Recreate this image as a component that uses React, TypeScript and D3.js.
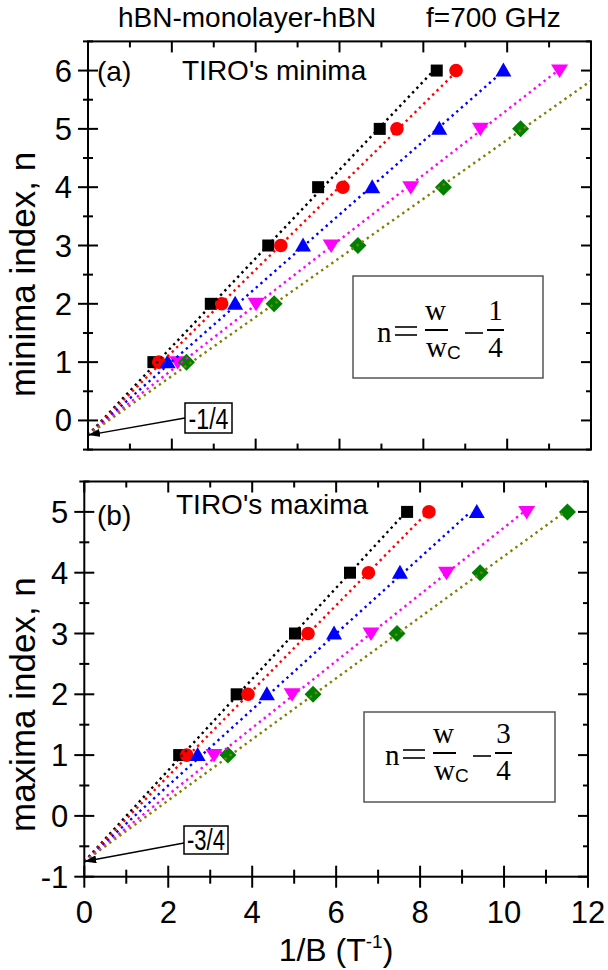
import React from 'react';
import * as d3 from 'd3';

// ---------------- data ----------------
const nMinima = [1, 2, 3, 4, 5, 6];
const nMaxima = [1, 2, 3, 4, 5];

const minimaBlack = [1.56, 2.93, 4.3, 5.49, 6.96, 8.32];
const minimaRed = [1.69, 3.19, 4.6, 6.08, 7.37, 8.78];
const minimaBlue = [1.9, 3.51, 5.13, 6.78, 8.38, 9.91];
const minimaMagenta = [2.14, 4.01, 5.8, 7.7, 9.36, 11.25];
const minimaGreen = [2.35, 4.44, 6.44, 8.48, 10.32];

const maximaBlack = [2.26, 3.63, 5.02, 6.33, 7.69];
const maximaRed = [2.44, 3.9, 5.33, 6.77, 8.21];
const maximaBlue = [2.7, 4.35, 5.95, 7.52, 9.35];
const maximaMagenta = [3.09, 4.95, 6.83, 8.63, 10.54];
const maximaGreen = [3.42, 5.45, 7.45, 9.43, 11.51];

const markerColors = ['#000000', '#ff0000', '#0000ff', '#ff00ff', '#008000'];
const lineColors = ['#000000', '#ff0000', '#0000ff', '#ff00ff', '#808000'];
const markerShapes = ['square', 'circle', 'triangle', 'triangleDown', 'diamond'];

const interceptMinima = -0.25;
const interceptMaxima = -0.75;

const xTickValues = [0, 2, 4, 6, 8, 10, 12];
const xTickLabels = ['0', '2', '4', '6', '8', '10', '12'];
const yTickValuesA = [0, 1, 2, 3, 4, 5, 6];
const yTickLabelsA = ['0', '1', '2', '3', '4', '5', '6'];
const yTickValuesB = [-1, 0, 1, 2, 3, 4, 5];
const yTickLabelsB = ['-1', '0', '1', '2', '3', '4', '5'];

// ---------------- styling ----------------
const SANS = "'Liberation Sans', Arial, Helvetica, sans-serif";
const SERIF = "'Liberation Serif', 'Times New Roman', serif";
const TICK_FS = 31;

type Series = { xs: number[]; ns: number[]; color: string; lineColor: string; shape: string };

function fitSlope(xs: number[], ns: number[], c: number) {
  let sxy = 0;
  let sxx = 0;
  xs.forEach((x, i) => {
    sxy += x * (ns[i] - c);
    sxx += x * x;
  });
  return sxy / sxx;
}

function Marker({ shape, cx, cy, color }: { shape: string; cx: number; cy: number; color: string }) {
  if (shape === 'square') return <rect x={cx - 6} y={cy - 6} width={12} height={12} fill={color} />;
  if (shape === 'circle') return <circle cx={cx} cy={cy} r={6.8} fill={color} />;
  if (shape === 'triangle')
    return <polygon points={`${cx},${cy - 8} ${cx - 8},${cy + 6} ${cx + 8},${cy + 6}`} fill={color} />;
  if (shape === 'triangleDown')
    return <polygon points={`${cx - 8.5},${cy - 6} ${cx + 8.5},${cy - 6} ${cx},${cy + 7.5}`} fill={color} />;
  return <polygon points={`${cx},${cy - 8.5} ${cx + 8.5},${cy} ${cx},${cy + 8.5} ${cx - 8.5},${cy}`} fill={color} />;
}

function Panel(props: {
  id: string;
  x: d3.ScaleLinear<number, number>;
  y: d3.ScaleLinear<number, number>;
  series: Series[];
  intercept: number;
  nTop: number;
  yTicks: number[];
  yLabels: string[];
  crossBottom: boolean;
  showXLabels: boolean;
}) {
  const { id, x, y, series, intercept, nTop, yTicks, yLabels, crossBottom, showXLabels } = props;
  const [xl, xr] = x.range();
  const [yb, yt] = y.range();
  const [d0, d1] = y.domain();
  const yMinor = d3.range(Math.ceil(d0 * 2) / 2, d1 + 0.001, 0.5).filter((v) => Math.abs(v - Math.round(v)) > 0.1);
  const xMinor = d3.range(1, 12, 2);
  const lw = 2;
  return (
    <g>
      <defs>
        <clipPath id={`clip-${id}`}>
          <rect x={xl} y={yt} width={xr - xl} height={yb - yt} />
        </clipPath>
      </defs>
      {series.map((s, si) =>
        s.xs.map((xv, i) => (
          <Marker key={`${si}-${i}`} shape={s.shape} cx={x(xv)} cy={y(s.ns[i])} color={s.color} />
        ))
      )}
      <g clipPath={`url(#clip-${id})`}>
        {series.map((s, si) => {
          const a = fitSlope(s.xs, s.ns, intercept);
          const xEnd = (nTop - intercept) / a;
          return (
            <line
              key={si}
              x1={x(0)}
              y1={y(intercept)}
              x2={x(xEnd)}
              y2={y(nTop)}
              stroke={s.lineColor}
              strokeWidth={2.4}
              strokeDasharray="2.4 3.8"
            />
          );
        })}
      </g>
      <rect x={xl} y={yt} width={xr - xl} height={yb - yt} fill="none" stroke="#000" strokeWidth={lw} />
      {yTicks.map((v) => (
        <g key={`yt${v}`}>
          <line x1={xl - 10} x2={xl + 10} y1={y(v)} y2={y(v)} stroke="#000" strokeWidth={lw} />
          <line x1={xr - 10} x2={xr} y1={y(v)} y2={y(v)} stroke="#000" strokeWidth={lw} />
        </g>
      ))}
      {yMinor.map((v) => (
        <g key={`ym${v}`}>
          <line x1={xl - 5} x2={xl + 5} y1={y(v)} y2={y(v)} stroke="#000" strokeWidth={lw} />
          <line x1={xr - 5} x2={xr} y1={y(v)} y2={y(v)} stroke="#000" strokeWidth={lw} />
        </g>
      ))}
      {yTicks.map((v, i) => (
        <text key={`yl${v}`} x={xl - 16} y={y(v) + 11} textAnchor="end" fontFamily={SANS} fontSize={TICK_FS}>
          {yLabels[i]}
        </text>
      ))}
      {xTickValues.map((v) => (
        <g key={`xt${v}`}>
          <line x1={x(v)} x2={x(v)} y1={yt} y2={yt + 11} stroke="#000" strokeWidth={lw} />
          <line x1={x(v)} x2={x(v)} y1={crossBottom ? yb + 11 : yb} y2={yb - 11} stroke="#000" strokeWidth={lw} />
        </g>
      ))}
      {xMinor.map((v) => (
        <g key={`xm${v}`}>
          <line x1={x(v)} x2={x(v)} y1={yt} y2={yt + 6} stroke="#000" strokeWidth={lw} />
          <line
            x1={x(v)}
            x2={x(v)}
            y1={crossBottom ? yb + 7 : yb}
            y2={crossBottom ? yb - 7 : yb - 6}
            stroke="#000"
            strokeWidth={lw}
          />
        </g>
      ))}
      {showXLabels &&
        xTickValues.map((v, i) => (
          <text key={`xl${v}`} x={x(v)} y={yb + 46} textAnchor="middle" fontFamily={SANS} fontSize={TICK_FS}>
            {xTickLabels[i]}
          </text>
        ))}
    </g>
  );
}

function Formula({ nX, barY, fracNum }: { nX: number; barY: number; fracNum: string }) {
  const fs = 29;
  return (
    <g fontFamily={SERIF} fontSize={fs}>
      <text x={nX} y={barY + 12}>n</text>
      <line x1={nX + 18} x2={nX + 40} y1={barY - 3} y2={barY - 3} stroke="#000" strokeWidth={1.6} />
      <line x1={nX + 18} x2={nX + 40} y1={barY + 5} y2={barY + 5} stroke="#000" strokeWidth={1.6} />
      <text x={nX + 48} y={barY - 10}>w</text>
      <line x1={nX + 48} x2={nX + 71} y1={barY} y2={barY} stroke="#000" strokeWidth={2} />
      <text x={nX + 49} y={barY + 27}>
        w
        <tspan fontFamily={SANS} fontSize={19} dy={2}>
          C
        </tspan>
      </text>
      <line x1={nX + 88} x2={nX + 106} y1={barY + 3} y2={barY + 3} stroke="#000" strokeWidth={1.6} />
      <text x={nX + 118.5} y={barY - 10} textAnchor="middle">
        {fracNum}
      </text>
      <line x1={nX + 110} x2={nX + 127} y1={barY} y2={barY} stroke="#000" strokeWidth={2} />
      <text x={nX + 118.5} y={barY + 27} textAnchor="middle">
        4
      </text>
    </g>
  );
}

export default function App() {
  const xA = d3.scaleLinear().domain([0, 12]).range([88, 591]);
  const yA = d3.scaleLinear().domain([-0.5, 6.5]).range([449.6, 41.4]);
  const xB = d3.scaleLinear().domain([0, 12]).range([84.3, 588]);
  const yB = d3.scaleLinear().domain([-1, 5.5]).range([876.7, 481.5]);

  const minimaXs = [minimaBlack, minimaRed, minimaBlue, minimaMagenta, minimaGreen];
  const maximaXs = [maximaBlack, maximaRed, maximaBlue, maximaMagenta, maximaGreen];

  const seriesA: Series[] = minimaXs.map((xs, i) => ({
    xs,
    ns: nMinima.slice(0, xs.length),
    color: markerColors[i],
    lineColor: lineColors[i],
    shape: markerShapes[i],
  }));
  const seriesB: Series[] = maximaXs.map((xs, i) => ({
    xs,
    ns: nMaxima.slice(0, xs.length),
    color: markerColors[i],
    lineColor: lineColors[i],
    shape: markerShapes[i],
  }));

  return (
    <svg
      width={608}
      height={970}
      style={{ position: 'absolute', left: 0, top: 0, background: '#fff' }}
      xmlns="http://www.w3.org/2000/svg"
    >
      <defs>
        <marker
          id="arrowHead"
          viewBox="0 0 12 8"
          refX={12}
          refY={4}
          markerWidth={12}
          markerHeight={8}
          markerUnits="userSpaceOnUse"
          orient="auto"
        >
          <path d="M0,0 L12,4 L0,8 Z" fill="#000" />
        </marker>
      </defs>
      <rect x={0} y={0} width={608} height={970} fill="#fff" />

      <text x={118} y={27} fontFamily={SANS} fontSize={28}>
        hBN-monolayer-hBN
      </text>
      <text x={426} y={27} fontFamily={SANS} fontSize={28}>
        f=700 GHz
      </text>

      <Panel
        id="a"
        x={xA}
        y={yA}
        series={seriesA}
        intercept={interceptMinima}
        nTop={6}
        yTicks={yTickValuesA}
        yLabels={yTickLabelsA}
        crossBottom={false}
        showXLabels={false}
      />
      <text x={97} y={81} fontFamily={SANS} fontSize={28}>
        (a)
      </text>
      <text x={182} y={80} fontFamily={SANS} fontSize={28}>
        TIRO's minima
      </text>
      <text transform="translate(35,397) rotate(-90)" fontFamily={SANS} fontSize={35} textAnchor="start">
        minima index, n
      </text>
      <rect x={353} y={276} width={190} height={102} fill="#fff" stroke="#555" strokeWidth={1.5} />
      <Formula nX={377} barY={330} fracNum="1" />
      <line
        x1={185}
        y1={418}
        x2={xA(0)}
        y2={yA(interceptMinima)}
        stroke="#000"
        strokeWidth={1.3}
        markerEnd="url(#arrowHead)"
      />
      <rect x={185} y={403} width={47} height={30} fill="#fff" stroke="#000" strokeWidth={1.5} />
      <text
        x={208.5}
        y={429}
        textAnchor="middle"
        fontFamily={SANS}
        fontSize={30}
        textLength={40}
        lengthAdjust="spacingAndGlyphs"
      >
        -1/4
      </text>

      <Panel
        id="b"
        x={xB}
        y={yB}
        series={seriesB}
        intercept={interceptMaxima}
        nTop={5}
        yTicks={yTickValuesB}
        yLabels={yTickLabelsB}
        crossBottom={true}
        showXLabels={true}
      />
      <text x={97} y={525} fontFamily={SANS} fontSize={28}>
        (b)
      </text>
      <text x={176} y={514} fontFamily={SANS} fontSize={28}>
        TIRO's maxima
      </text>
      <text transform="translate(35,832) rotate(-90)" fontFamily={SANS} fontSize={35} textAnchor="start">
        maxima index, n
      </text>
      <rect x={364} y={712} width={191} height={90} fill="#fff" stroke="#555" strokeWidth={1.5} />
      <Formula nX={385} barY={753} fracNum="3" />
      <line
        x1={184}
        y1={843}
        x2={xB(0)}
        y2={yB(interceptMaxima)}
        stroke="#000"
        strokeWidth={1.3}
        markerEnd="url(#arrowHead)"
      />
      <rect x={184} y={826} width={44} height={28} fill="#fff" stroke="#000" strokeWidth={1.5} />
      <text
        x={206}
        y={850}
        textAnchor="middle"
        fontFamily={SANS}
        fontSize={29}
        textLength={38}
        lengthAdjust="spacingAndGlyphs"
      >
        -3/4
      </text>

      <text x={336} y={961} textAnchor="middle" fontFamily={SANS} fontSize={32}>
        1/B (T
        <tspan fontSize={19} dy={-13}>
          -1
        </tspan>
        <tspan dy={13}>)</tspan>
      </text>
    </svg>
  );
}
